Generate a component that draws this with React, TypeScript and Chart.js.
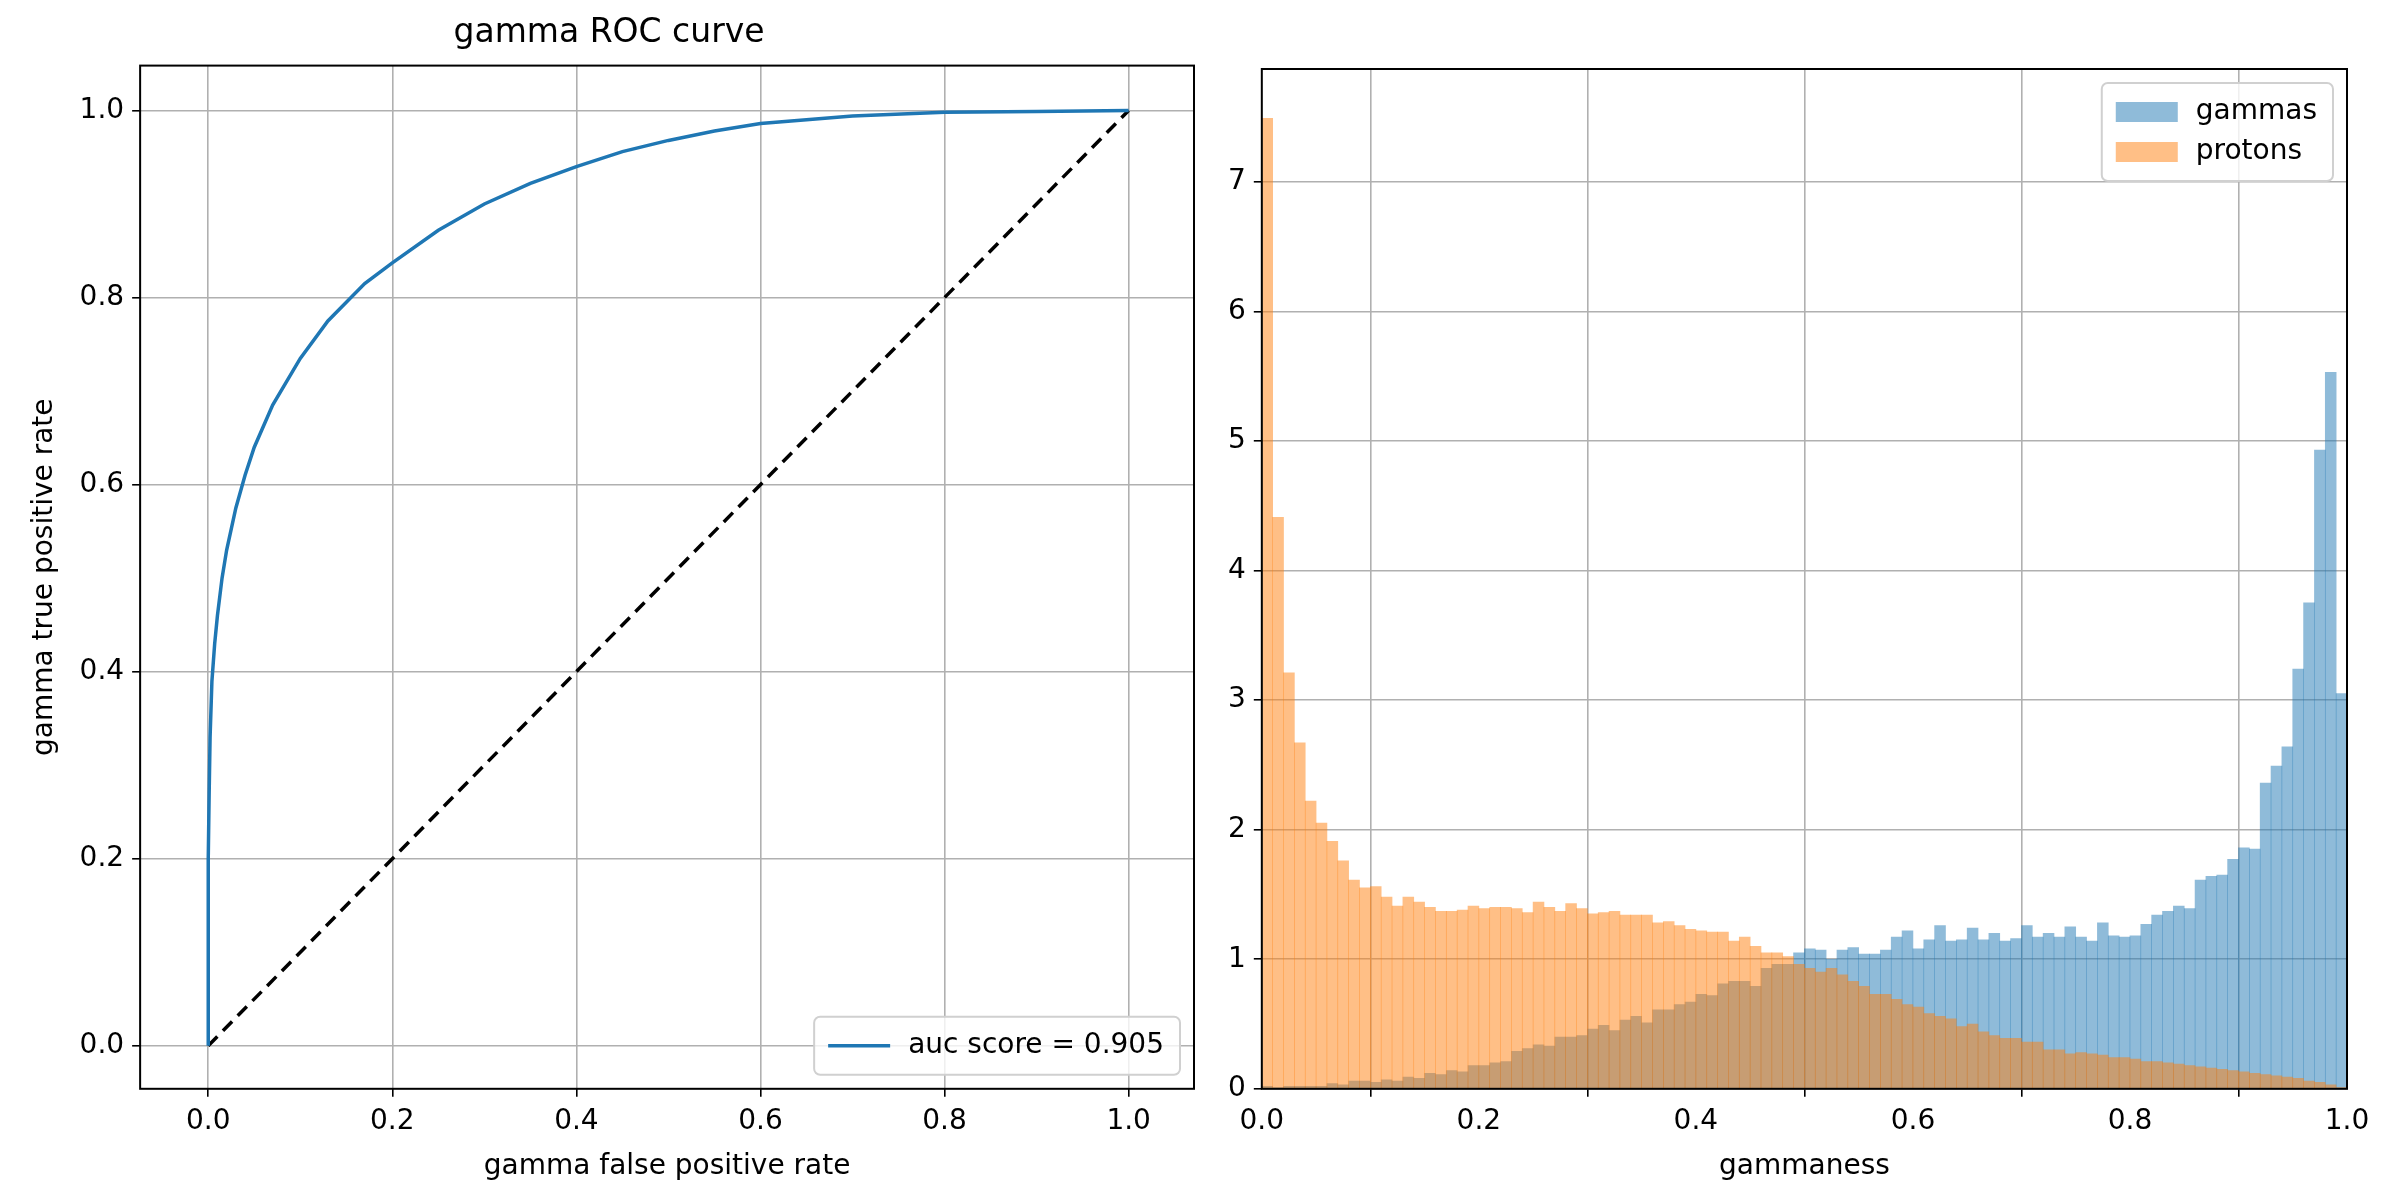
import React, { useEffect, useRef } from "react";
import { Chart, registerables } from "chart.js";
Chart.register(...registerables);

const rocFpr = [0, 0, 0.001, 0.002, 0.004, 0.007, 0.01, 0.015, 0.02, 0.03, 0.04, 0.05, 0.07, 0.1, 0.13, 0.17, 0.2, 0.25, 0.3, 0.35, 0.4, 0.45, 0.5, 0.55, 0.6, 0.7, 0.8, 0.9, 1.0];
const rocTpr = [0, 0.2, 0.27, 0.33, 0.39, 0.43, 0.46, 0.5, 0.53, 0.575, 0.61, 0.64, 0.685, 0.735, 0.775, 0.815, 0.837, 0.872, 0.9, 0.922, 0.94, 0.956, 0.968, 0.978, 0.986, 0.994, 0.998, 0.999, 1.0];
const aucLabel = "auc score = 0.905";

const gammas = [
  0.02, 0.01, 0.02, 0.02, 0.02, 0.02, 0.04, 0.03, 0.06, 0.06, 0.05, 0.07, 0.06, 0.09, 0.08, 0.12, 0.11, 0.14, 0.13, 0.18, 0.18, 0.2, 0.21,
  0.29, 0.31, 0.34, 0.33, 0.4, 0.4, 0.41, 0.46, 0.49, 0.45, 0.53, 0.56, 0.51, 0.61, 0.61, 0.65, 0.67, 0.73, 0.72, 0.81, 0.83, 0.83, 0.79, 0.93, 0.96, 0.96,
  1.05, 1.08, 1.07, 1.0, 1.07, 1.09, 1.04, 1.04, 1.07, 1.17, 1.22, 1.08, 1.15, 1.26, 1.14, 1.15, 1.24, 1.15, 1.2, 1.14, 1.16, 1.26, 1.17, 1.2, 1.17, 1.25,
  1.17, 1.14, 1.28, 1.18, 1.17, 1.18, 1.27, 1.34, 1.37, 1.41, 1.39, 1.61, 1.64, 1.65, 1.77, 1.86, 1.85, 2.36, 2.49, 2.64, 3.24, 3.75, 4.93, 5.53, 3.05,
];
const protons = [
  7.49, 4.41, 3.21, 2.67, 2.22, 2.05, 1.91, 1.76, 1.61, 1.55, 1.56, 1.48, 1.41, 1.48, 1.44, 1.4, 1.37, 1.37, 1.38, 1.41, 1.39, 1.4, 1.4,
  1.39, 1.36, 1.44, 1.4, 1.37, 1.43, 1.39, 1.35, 1.36, 1.37, 1.34, 1.34, 1.34, 1.28, 1.29, 1.26, 1.23, 1.22, 1.21, 1.21, 1.14, 1.17, 1.1, 1.05, 1.05, 1.02,
  0.96, 0.93, 0.9, 0.93, 0.88, 0.83, 0.79, 0.73, 0.73, 0.69, 0.65, 0.63, 0.58, 0.56, 0.54, 0.48, 0.5, 0.44, 0.41, 0.39, 0.39, 0.36, 0.36, 0.3, 0.3, 0.27,
  0.28, 0.27, 0.26, 0.24, 0.24, 0.23, 0.21, 0.21, 0.2, 0.19, 0.18, 0.17, 0.16, 0.15, 0.14, 0.13, 0.12, 0.11, 0.1, 0.09, 0.08, 0.06, 0.05, 0.03, 0.01,
];
const xTicks = [0, 0.2, 0.4, 0.6, 0.8, 1.0];
const rocYTicks = [0, 0.2, 0.4, 0.6, 0.8, 1.0];
const histYTicks = [0, 1, 2, 3, 4, 5, 6, 7];

const FONT = "'DejaVu Sans'";
const GRID = "#b0b0b0";

const frame = {
  id: "frame",
  afterDatasetsDraw(chart: any) {
    const { ctx, chartArea: a } = chart;
    ctx.save();
    ctx.strokeStyle = "#000";
    ctx.lineWidth = 2;
    ctx.strokeRect(a.left, a.top, a.right - a.left, a.bottom - a.top);
    ctx.restore();
  },
};

const boxLegend = (corner: "br" | "tr", kind: "line" | "box") => ({
  id: "boxLegend",
  afterDraw(chart: any) {
    const { ctx, chartArea: a } = chart;
    const items = chart.data.datasets.filter((d: any) => d.label);
    ctx.save();
    ctx.font = `28px ${FONT}`;
    const rowH = 40;
    const tw = Math.max(...items.map((d: any) => ctx.measureText(d.label).width));
    const w = 14 + 62 + 18 + tw + 16;
    const h = 12 + rowH * items.length + 6;
    const x = a.right - 14 - w;
    const y = corner === "br" ? a.bottom - 14 - h : a.top + 14;
    ctx.fillStyle = "rgba(255,255,255,0.8)";
    ctx.strokeStyle = "#d0d0d0";
    ctx.lineWidth = 2;
    ctx.beginPath();
    ctx.roundRect(x, y, w, h, 6);
    ctx.fill();
    ctx.stroke();
    items.forEach((d: any, i: number) => {
      const cy = y + 12 + rowH * i + rowH / 2 - 3;
      if (kind === "line") {
        ctx.strokeStyle = d.borderColor;
        ctx.lineWidth = 3.5;
        ctx.beginPath();
        ctx.moveTo(x + 14, cy);
        ctx.lineTo(x + 76, cy);
        ctx.stroke();
      } else {
        ctx.fillStyle = d.backgroundColor;
        ctx.fillRect(x + 14, cy - 10, 62, 20);
      }
      ctx.fillStyle = "#000";
      ctx.textBaseline = "middle";
      ctx.fillText(d.label, x + 94, cy);
    });
    ctx.restore();
  },
});

function fixedTicks(vals: number[]) {
  return (scale: any) => {
    scale.ticks = vals.map((v) => ({ value: v }));
  };
}

function axis(min: number, max: number, vals: number[], fmt: (v: number) => string, title: string, isX: boolean) {
  return {
    type: "linear",
    min,
    max,
    afterBuildTicks: fixedTicks(vals),
    grid: { color: GRID, lineWidth: 1.6, tickColor: "#000", tickLength: 8, drawTicks: true },
    border: { display: false },
    ticks: { color: "#000", font: { family: FONT, size: 28 }, padding: 8, maxRotation: 0, autoSkip: false, callback: (v: any) => fmt(Number(v)) },
    title: { display: !!title, text: title, color: "#000", font: { family: FONT, size: 28 }, padding: isX ? { top: 4 } : { bottom: 10 } },
  };
}

function RocChart() {
  const ref = useRef<HTMLCanvasElement>(null);
  useEffect(() => {
    const c = new Chart(ref.current!, {
      type: "line",
      data: {
        datasets: [
          { label: aucLabel, data: rocFpr.map((x, i) => ({ x, y: rocTpr[i] })), borderColor: "#1f77b4", borderWidth: 3.5, pointRadius: 0, tension: 0 },
          { label: "", data: [{ x: 0, y: 0 }, { x: 1, y: 1 }], borderColor: "#000", borderWidth: 3.5, borderDash: [13, 8], pointRadius: 0 },
        ],
      },
      options: {
        animation: false,
        responsive: false,
        layout: { padding: { top: 0, right: 26, bottom: 12, left: 24 } },
        plugins: {
          legend: { display: false },
          tooltip: { enabled: false },
          title: { display: true, text: "gamma ROC curve", color: "#000", font: { family: FONT, size: 33, weight: "normal" }, padding: { top: 14, bottom: 12 } },
        },
        scales: {
          x: axis(-0.074, 1.071, xTicks, (v) => v.toFixed(1), "gamma false positive rate", true),
          y: axis(-0.046, 1.048, rocYTicks, (v) => v.toFixed(1), "gamma true positive rate", false),
        },
      } as any,
      plugins: [frame, boxLegend("br", "line")],
    });
    return () => c.destroy();
  }, []);
  return <canvas ref={ref} width={1220} height={1200} style={{ position: "absolute", left: 0, top: 0 }} />;
}

function HistChart() {
  const ref = useRef<HTMLCanvasElement>(null);
  useEffect(() => {
    const centers = gammas.map((_, i) => (i + 0.5) / gammas.length);
    const c = new Chart(ref.current!, {
      type: "bar",
      data: {
        datasets: [
          { label: "gammas", data: centers.map((x, i) => ({ x, y: gammas[i] })), backgroundColor: "rgba(31,119,180,0.5)", barPercentage: 1, categoryPercentage: 1, grouped: false, order: 2, borderWidth: 0 },
          { label: "protons", data: centers.map((x, i) => ({ x, y: protons[i] })), backgroundColor: "rgba(255,127,14,0.5)", barPercentage: 1, categoryPercentage: 1, grouped: false, order: 1, borderWidth: 0 },
        ],
      },
      options: {
        animation: false,
        responsive: false,
        layout: { padding: { top: 69, right: 53, bottom: 12, left: 0 } },
        plugins: { legend: { display: false }, tooltip: { enabled: false } },
        scales: {
          x: { ...axis(0, 1, xTicks, (v) => v.toFixed(1), "gammaness", true), offset: false },
          y: axis(0, 7.87, histYTicks, (v) => String(v), "", false),
        },
      } as any,
      plugins: [frame, boxLegend("tr", "box")],
    });
    return () => c.destroy();
  }, []);
  return <canvas ref={ref} width={1180} height={1200} style={{ position: "absolute", left: 1220, top: 0 }} />;
}

export default function App() {
  return (
    <div style={{ position: "absolute", left: 0, top: 0, width: 2400, height: 1200, background: "#fff" }}>
      <RocChart />
      <HistChart />
    </div>
  );
}
